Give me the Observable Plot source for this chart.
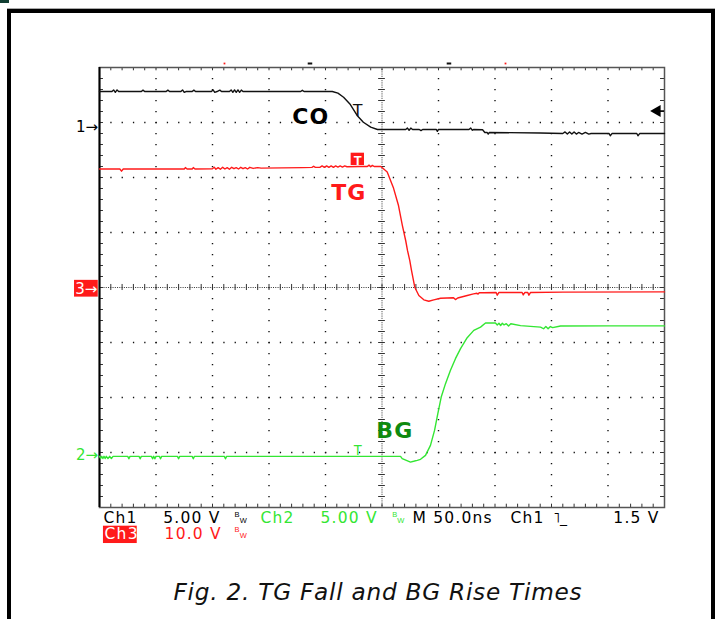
<!DOCTYPE html>
<html><head><meta charset="utf-8">
<script src="https://cdn.jsdelivr.net/npm/d3@7"></script>
<script src="https://cdn.jsdelivr.net/npm/@observablehq/plot@0.6"></script>
<style>
html,body{margin:0;padding:0;background:#fff;overflow:hidden;}
#wrap{position:relative;width:715px;height:619px;overflow:hidden;background:#fff;}
#tab{position:absolute;left:0;top:0;width:9px;height:3px;background:#123f33;}
#border{position:absolute;left:7px;top:9px;width:700px;height:700px;border:4px solid #000;box-shadow:0 -1px 0 #aaa;}
#chart{position:absolute;left:0;top:0;}
svg g[font-family="DejaVu Sans"] text{letter-spacing:1.2px;}
svg g[font-family="DejaVu Sans, sans-serif"] text{letter-spacing:0.75px;}
</style></head><body>
<div id="wrap"><div id="tab"></div><div id="border"></div><div id="chart"></div></div>
<script>
// ---- channel settings (volts per division, ground offset in divisions) ----
const ch1 = {name: "Ch1", vpd: 5, offset: 2.909};
const ch2 = {name: "Ch2", vpd: 5, offset: -3.07};
const ch3 = {name: "Ch3", vpd: 10, offset: 0};

// ---- traces: [time ns (trigger = 0), volts] ----
const coTrace = [
  [-250,3.27],[-239,3.27],[-237.5,3.42],[-236,3.2],[-234.5,3.42],[-233,3.27],
  [-213,3.27],[-211.5,3.4],[-210,3.27],
  [-191,3.27],[-189.5,3.4],[-188,3.27],
  [-178,3.27],[-176.5,3.42],[-175,3.2],[-173.5,3.27],
  [-168,3.27],[-166.5,3.4],[-165,3.27],
  [-151,3.27],[-149.5,3.42],[-148,3.2],[-146,3.27],[-143.5,3.4],[-142,3.27],
  [-135,3.27],[-133.5,3.42],[-132,3.2],[-130.5,3.42],[-129,3.2],[-127.5,3.42],[-126,3.2],[-124.5,3.4],[-123,3.27],
  [-72,3.27],[-70.5,3.38],[-69,3.27],
  [-44,3.27],[-39,3.12],[-34,2.75],[-28,2.09],[-22,1.1],[-16.5,0.48],[-10,0.03],[-4,-0.18],
  [21,-0.18],[22.5,-0.05],[24,-0.25],[25.5,-0.05],[27,-0.18],
  [33,-0.18],[34.5,-0.28],[36,-0.18],
  [48,-0.18],[49,-0.35],[50,-0.18],
  [77,-0.18],[78.5,-0.05],[80,-0.25],[81,-0.18],
  [89,-0.2],[91,-0.45],[93,-0.45],[94,-0.6],[95,-0.45],
  [140,-0.5],[160,-0.55],[162,-0.4],[164,-0.6],[166,-0.4],[168,-0.6],[170,-0.4],[172,-0.6],[174,-0.45],[177,-0.6],[180,-0.45],[183,-0.6],[185,-0.55],
  [201,-0.55],[202,-0.75],[203.5,-0.55],
  [225.5,-0.55],[226.5,-0.75],[228,-0.55],
  [250,-0.55]
];
const tgTrace = [
  [-250,21.55],[-232,21.55],[-230.5,21.15],[-229,21.55],
  [-175,21.55],[-174,21.8],[-172.5,21.55],[-168,21.55],[-167,21.8],[-165.5,21.55],
  [-150,21.6],[-148.5,21.85],[-147,21.5],[-145,21.8],[-143,21.5],[-141,21.85],[-139,21.55],[-137,21.8],[-135,21.5],[-133,21.85],[-131,21.6],[-129,21.8],[-127,21.55],[-125,21.85],[-123,21.6],[-121,21.8],[-119,21.55],[-117,21.85],[-114,21.65],[-110,21.8],[-107,21.7],
  [-70,21.8],[-62,21.85],[-60.5,22.05],[-59,21.85],[-55,21.85],[-53,22.1],[-51,21.85],[-49,22.1],[-47,21.85],[-45,22.1],[-43,21.85],[-41,22.1],[-39,21.9],[-37,22.1],[-35,21.9],[-33,22.1],[-31,21.95],
  [-20,22.0],[-13,22.0],[-11.5,22.25],[-10,21.95],[-8.5,22.2],[-7,22.0],
  [-1,22.0],[4.6,21.0],[10,18.2],[14.6,14.9],[18,11.3],[21,8.5],[22.6,6.7],[24.6,4.9],[26.1,3.1],[29,0.05],[32.6,-1.45],[37,-2.24],[41.4,-2.5],[45.8,-2.24],[51.8,-1.95],[63.3,-1.87],[65,-2.2],[67,-1.9],[75.4,-1.45],[81,-1.15],[84,-1.05],[85,-1.2],[86,-0.95],[89.8,-0.96],
  [101,-0.9],[102,-1.4],[103.5,-0.9],[124,-0.9],[125,-1.35],[126.5,-0.9],[129,-0.9],[130,-1.4],[131.5,-0.9],[160,-0.85],[250,-0.8]
];
const bgTrace = [
  [-250,0],[-249,-0.2],[-248,0],[-247,-0.2],[-246,0],[-245,-0.2],[-244,0],[-242.5,-0.2],[-241,0],[-239.5,-0.2],[-238,0],
  [-225,0],[-224,-0.22],[-223,0],
  [-215,0],[-214,-0.22],[-213,0],
  [-204,0],[-203,-0.22],[-202,0],[-201,-0.22],[-200,0],
  [-197,0],[-196,-0.22],[-195,0],
  [-181,0],[-180,-0.22],[-179,0],
  [-168,0],[-167,-0.22],[-166,0],
  [-139.5,0],[-138.5,-0.22],[-137.5,0],
  [16.4,0],[17.9,-0.21],[25.2,-0.52],[28,-0.45],[31.2,-0.36],[34.1,-0.27],[38.5,0.09],[42.9,1.0],[46.5,2.36],[49.4,3.88],[52.4,5.39],[56.2,6.61],[60.6,7.82],[65,8.88],[69.5,9.79],[75.4,10.79],[81.2,11.45],[87.2,11.75],[91.6,12.12],[100.4,12.12],
  [102,11.95],[103.5,12.1],[105,11.9],[106.5,12.1],[108,11.95],[110,12.06],[112,11.85],[114,12.05],[122.6,11.88],[140.3,11.75],[143,11.6],[145,11.8],[147,11.6],[149,11.8],[151,11.7],[158,11.85],[200,11.86],[250,11.86]
];

// ---- graticule ----
const majorTimes = [-200,-150,-100,-50,50,100,150,200];
const majorDivs = [-3,-2,-1,1,2,3];
const minorTimes = d3.range(-250, 250.001, 10);
const minorDivs = d3.range(-4, 4.001, 0.2);

// ---- texts ----
const signalLabels = ["CO", "TG", "BG"];
const groundMarkers = ["1→", "2→", "3→"];
const triggerLevel = 1.5; // volts on Ch1
const row1 = ["Ch1", "5.00 V", "Ch2", "5.00 V", "M 50.0ns", "Ch1", "1.5 V"];
const row2 = ["Ch3", "10.0 V"];
const captionText = "Fig. 2. TG Fall and BG Rise Times";

// colors
const cBlack = "#111", cRed = "#ff1a1a", cGreen = "#33e633", cDarkGreen = "#0f8a0f";

const yOf = (ch, v) => ch.offset + v / ch.vpd;
const F = "DejaVu Sans";
const FN = "DejaVu Sans, Verdana"; // no letter spacing
const r1 = -4.273, r2 = -4.575;

const scopeText = (txt, t, y, fill, opts = {}) =>
  Plot.text([txt], {x: () => t, y: () => y, text: d => d, fill, fontSize: 15.5, fontFamily: F, textAnchor: "start", lineAnchor: "bottom", ...opts});
const bw = (t, yb, fill) => [
  Plot.text(["B"], {x: () => t, y: () => yb, text: d => d, fill, fontSize: 7.5, fontFamily: "Liberation Sans", textAnchor: "start", lineAnchor: "bottom"}),
  Plot.text(["W"], {x: () => t + 4.6, y: () => yb - 0.105, text: d => d, fill, fontSize: 7.5, fontFamily: "Liberation Sans", textAnchor: "start", lineAnchor: "bottom"})
];

const plot = Plot.plot({
  width: 715, height: 619,
  marginLeft: 99, marginRight: 51, marginTop: 67, marginBottom: 112,
  x: {domain: [-250, 250], axis: null},
  y: {domain: [-4, 4], axis: null},
  style: {background: "transparent", fontFamily: "DejaVu Sans", overflow: "visible"},
  marks: [
    // graticule
    Plot.ruleX(majorTimes, {x: d => d, stroke: "#111", strokeDasharray: "1.3 9.7", strokeWidth: 1.4}),
    Plot.ruleY(majorDivs, {y: d => d, stroke: "#111", strokeDasharray: "1.3 10", strokeWidth: 1.4}),
    Plot.ruleX([0], {x: d => d, stroke: "#333", strokeDasharray: "1 1.2"}),
    Plot.ruleY([0], {y: d => d, stroke: "#333", strokeDasharray: "1 1.26"}),
    Plot.ruleY(minorDivs, {y: d => d, x1: -3, x2: 3, stroke: "#333"}),
    Plot.ruleX(minorTimes, {x: d => d, y1: -0.055, y2: 0.055, stroke: "#333"}),
    Plot.ruleY(minorDivs, {y: d => d, x1: -250, x2: -246.5, stroke: "#333"}),
    Plot.ruleY(minorDivs, {y: d => d, x1: 246.5, x2: 250, stroke: "#333"}),
    Plot.ruleX(minorTimes, {x: d => d, y1: 4, y2: 3.94, stroke: "#333"}),
    Plot.ruleX(minorTimes, {x: d => d, y1: -4, y2: -3.94, stroke: "#333"}),
    Plot.frame({stroke: "#555", strokeWidth: 1.5}),
    Plot.ruleX([-250], {x: d => d, stroke: "#000", strokeWidth: 2}),

    // top position markers
    Plot.dot([-139.4, 109.3], {x: d => d, y: () => 4, dy: -4, symbol: "square", r: 1, fill: cRed}),
    Plot.ruleY([4], {y: d => d, x1: -65.3, x2: -61.3, dy: -4, stroke: cBlack, strokeWidth: 2}),
    Plot.ruleY([4], {y: d => d, x1: 57.7, x2: 61.7, dy: -4, stroke: cBlack, strokeWidth: 2}),

    // traces
    Plot.line(coTrace, {x: d => d[0], y: d => yOf(ch1, d[1]), stroke: cBlack, strokeWidth: 1.4}),
    Plot.line(tgTrace, {x: d => d[0], y: d => yOf(ch3, d[1]), stroke: cRed, strokeWidth: 1.4}),
    Plot.line(bgTrace, {x: d => d[0], y: d => yOf(ch2, d[1]), stroke: cGreen, strokeWidth: 1.4}),

    // signal labels
    Plot.text([signalLabels[0]], {x: () => -79.5, y: () => 2.964, text: d => d, fill: "#000", fontSize: 22, fontWeight: "bold", fontFamily: F, textAnchor: "start", lineAnchor: "bottom"}),
    Plot.text([signalLabels[1]], {x: () => -45, y: () => 1.595, text: d => d, fill: cRed, fontSize: 22, fontWeight: "bold", fontFamily: F, textAnchor: "start", lineAnchor: "bottom"}),
    Plot.text([signalLabels[2]], {x: () => -5.1, y: () => -2.733, text: d => d, fill: cDarkGreen, fontSize: 22, fontWeight: "bold", fontFamily: F, textAnchor: "start", lineAnchor: "bottom"}),

    // trigger markers "T"
    Plot.text(["T"], {x: () => -21.5, y: () => 3.127, text: d => d, fill: cBlack, fontSize: 17, fontFamily: "Liberation Sans", lineAnchor: "bottom"}),
    Plot.rect([0], {x1: -27.3, x2: -15.5, y1: 2.442, y2: 2.218, fill: cRed}),
    Plot.text(["T"], {x: () => -21.4, y: () => 2.23, text: d => d, fill: "#fff", fontSize: 13, fontWeight: "bold", fontFamily: "Liberation Sans", lineAnchor: "bottom"}),
    Plot.text(["T"], {x: () => -21.5, y: () => -3.04, text: d => d, fill: cGreen, fontSize: 14, fontFamily: "Liberation Sans", lineAnchor: "bottom"}),

    // channel ground markers
    Plot.text([groundMarkers[0]], {x: () => -251.3, y: () => ch1.offset, text: d => d, fill: "#000", fontSize: 15, fontFamily: FN, textAnchor: "end", lineAnchor: "middle"}),
    Plot.rect([0], {x1: -272.1, x2: -251.1, y1: ch3.offset + 0.13, y2: ch3.offset - 0.175, fill: cRed}),
    Plot.text([groundMarkers[2]], {x: () => -261.6, y: () => ch3.offset - 0.03, text: d => d, fill: "#fff", fontSize: 15, fontFamily: FN, lineAnchor: "middle"}),
    Plot.text([groundMarkers[1]], {x: () => -251.3, y: () => ch2.offset + 0.03, text: d => d, fill: cGreen, fontSize: 15, fontFamily: FN, textAnchor: "end", lineAnchor: "middle"}),

    // trigger level arrow (right edge)
    Plot.dot([triggerLevel], {x: () => 243.5, y: d => yOf(ch1, d), symbol: "triangle", rotate: -90, r: 4.5, fill: "#000"}),
    Plot.ruleY([triggerLevel], {y: d => yOf(ch1, d), x1: 243, x2: 250, stroke: "#000", strokeWidth: 1.5}),

    // status line 1
    scopeText(row1[0], -246.5, r1, "#000"),
    scopeText(row1[1], -193.6, r1, "#000"),
    ...bw(-130.5, -4.176, "#000"),
    scopeText(row1[2], -107.5, r1, cGreen),
    scopeText(row1[3], -54.4, r1, cGreen),
    ...bw(9.0, -4.176, cGreen),
    scopeText(row1[4], 27, r1, "#000"),
    scopeText(row1[5], 113.7, r1, "#000"),
    scopeText("˥_", 151.5, r1, "#000", {fontFamily: FN, fontSize: 14}),
    scopeText(row1[6], 245.6, r1, "#000", {textAnchor: "end"}),

    // status line 2
    Plot.rect([0], {x1: -246.5, x2: -216.6, y1: -4.34, y2: -4.655, fill: cRed}),
    scopeText(row2[0], -245.5, r2, "#fff"),
    scopeText(row2[1], -192.4, r2, cRed),
    ...bw(-130.5, -4.449, cRed),

    // caption
    Plot.text([captionText], {x: () => -3.6, y: () => -5.69, text: d => d, fill: "#111", fontSize: 23.2, fontStyle: "italic", fontFamily: "DejaVu Sans, sans-serif", textAnchor: "middle", lineAnchor: "bottom"})
  ]
});
document.getElementById("chart").appendChild(plot);
</script>
</body></html>
